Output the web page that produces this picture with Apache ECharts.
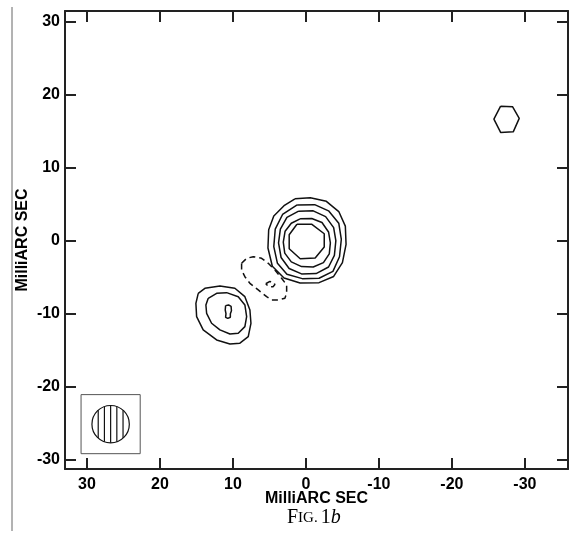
<!DOCTYPE html>
<html>
<head>
<meta charset="utf-8">
<script src="https://cdn.jsdelivr.net/npm/echarts@6/dist/echarts.min.js"></script>
<style>
html,body{margin:0;padding:0;background:#fff;}
#chart{width:569px;height:536px;}
</style>
</head>
<body>
<div id="chart"></div>
<script>
// Axis ticks (milliarcsec)
var xTicks = [30, 20, 10, 0, -10, -20, -30];
var yTicks = [-30, -20, -10, 0, 10, 20, 30];

// Solid contours (x = relative RA in mas, y = relative Dec in mas)
var coreC1 = [[1.23,2.25],[-0.82,2.25],[-2.51,0.96],[-2.51,-0.86],[-1.27,-2.37],[0.78,-2.47],[2.29,-1.10],[2.29,0.82],[1.23,2.25]];
var coreC2 = [[0.8,3.0],[-0.8,3.05],[-2.2,2.5],[-3.1,1.2],[-3.35,-0.3],[-3.2,-1.8],[-2.4,-3.0],[-1.0,-3.6],[0.6,-3.55],[2.0,-2.9],[2.9,-1.7],[3.1,-0.2],[2.85,1.3],[2.0,2.4],[0.8,3.0]];
var coreC3 = [[1.0,4.05],[-1.0,4.1],[-2.7,3.3],[-3.8,1.8],[-4.1,0],[-3.9,-2.0],[-3.1,-3.6],[-1.4,-4.5],[0.6,-4.55],[2.3,-3.8],[3.4,-2.3],[3.75,-0.3],[3.5,1.6],[2.6,3.2],[1.0,4.05]];
var coreC4 = [[1.2,4.9],[-1.2,4.95],[-3.1,4.1],[-4.5,2.4],[-4.85,0.2],[-4.6,-2.2],[-3.7,-4.2],[-1.8,-5.15],[0.5,-5.2],[2.6,-4.6],[3.9,-3.1],[4.4,-0.8],[4.2,1.6],[3.2,3.6],[1.2,4.9]];
var coreC5 = [[1.5,5.75],[-0.6,5.9],[-2.8,5.4],[-4.5,4.0],[-5.4,2.0],[-5.5,-0.5],[-5.0,-3.0],[-3.8,-4.9],[-1.8,-5.75],[0.8,-5.8],[3.0,-5.1],[4.6,-3.5],[5.2,-1.0],[5.1,1.5],[4.4,3.4],[3.0,4.8],[1.5,5.75]];

var knotC1 = [[14.75,-7.21],[13.84,-6.52],[11.78,-6.21],[9.73,-6.52],[8.36,-7.67],[7.67,-9.49],[7.53,-11.32],[7.90,-13.15],[9.04,-14.05],[10.41,-14.15],[12.23,-13.60],[14.07,-12.23],[14.97,-10.41],[15.07,-8.58],[14.75,-7.21]];
var knotC2 = [[13.38,-7.89],[12.23,-7.21],[10.86,-7.12],[9.27,-7.67],[8.36,-8.81],[8.12,-10.41],[8.36,-11.78],[9.27,-12.68],[10.41,-12.78],[11.78,-12.23],[12.92,-11.32],[13.60,-9.95],[13.70,-8.81],[13.38,-7.89]];
var knotC3 = [[11.0,-8.9],[10.6,-8.8],[10.25,-9.0],[10.2,-9.6],[10.35,-10.0],[10.35,-10.5],[10.7,-10.65],[11.0,-10.5],[10.95,-10.0],[11.05,-9.5],[11.0,-8.9]];

var farC1 = [[-26.67,18.45],[-28.32,18.36],[-29.22,16.77],[-28.40,14.93],[-26.67,14.85],[-25.75,16.67],[-26.67,18.45]];

// Negative (dashed) contours
var negC1 = [[8.81,-3.10],[8.12,-2.41],[7.22,-2.19],[6.07,-2.41],[5.16,-3.10],[4.25,-4.01],[3.33,-5.15],[2.64,-6.07],[2.64,-7.21],[2.88,-7.89],[3.79,-8.12],[4.70,-8.12],[5.38,-7.67],[6.53,-6.75],[7.67,-5.84],[8.36,-4.93],[8.81,-4.01],[8.81,-3.10]];
var negC2 = [[5.5,-5.9],[5.0,-5.6],[4.4,-5.7],[4.25,-6.0],[4.5,-6.3],[5.1,-6.3],[5.5,-5.9]];

// Restoring beam: centre, radius, box half-size, hatch offsets (mas)
var beamCenter = [26.75, -25.15];
var beamRadius = 2.56;
var beamBoxHalf = 4.05;
var beamHatch = [-1.7, -0.85, 0, 0.85, 1.7];

var solid = [coreC1, coreC2, coreC3, coreC4, coreC5, knotC1, knotC2, knotC3, farC1];
var dashed = [negC1, negC2];

var chart = echarts.init(document.getElementById('chart'), null, {renderer: 'canvas'});

var labelFont = {fontFamily: 'Liberation Sans, Arial, sans-serif', fontWeight: 'bold', fontSize: 16, color: '#000'};

function lineSeries(d, dash) {
  return {
    type: 'line', data: d, showSymbol: false, symbol: 'none', silent: true,
    animation: false, smooth: false,
    lineStyle: {color: '#111', width: 1.5, type: dash ? [6, 4] : 'solid'},
    xAxisIndex: 0, yAxisIndex: 0, z: 3
  };
}

var series = [];
solid.forEach(function (d) { series.push(lineSeries(d, false)); });
dashed.forEach(function (d) { series.push(lineSeries(d, true)); });

series.push({
  type: 'custom', data: [beamCenter], silent: true, animation: false, z: 4,
  renderItem: function (params, api) {
    var c = api.coord([api.value(0), api.value(1)]);
    var r = api.size([beamRadius, beamRadius]);
    var rx = r[0], ry = r[1];
    var b = api.size([beamBoxHalf, beamBoxHalf]);
    var children = [
      {type: 'rect', shape: {x: c[0] - b[0], y: c[1] - b[1], width: 2 * b[0], height: 2 * b[1]},
       style: {fill: 'none', stroke: '#555', lineWidth: 1}},
      {type: 'ellipse', shape: {cx: c[0], cy: c[1], rx: rx, ry: ry},
       style: {fill: 'none', stroke: '#111', lineWidth: 1.2}}
    ];
    beamHatch.forEach(function (h) {
      var dx = api.size([Math.abs(h), 0])[0] * (h < 0 ? -1 : 1);
      var hh = Math.sqrt(Math.max(rx * rx - dx * dx, 0)) * ry / rx;
      children.push({type: 'line', shape: {x1: c[0] + dx, y1: c[1] - hh, x2: c[0] + dx, y2: c[1] + hh},
        style: {stroke: '#111', lineWidth: 1.2}});
    });
    return {type: 'group', children: children};
  }
});

var tickStyle = {inside: true, length: 11, lineStyle: {color: '#222', width: 2}};
var axisLineStyle = {show: true, onZero: false, lineStyle: {color: '#222', width: 2}};

var option = {
  animation: false,
  backgroundColor: '#fff',
  grid: {left: 65, top: 11, width: 503, height: 458, containLabel: false},
  xAxis: [
    {type: 'value', inverse: true, min: -35.9, max: 33, position: 'bottom',
     axisLine: axisLineStyle,
     axisTick: Object.assign({customValues: xTicks}, tickStyle),
     axisLabel: Object.assign({customValues: xTicks, margin: 8}, labelFont),
     splitLine: {show: false},
     name: 'MilliARC SEC', nameLocation: 'middle', nameGap: 22, nameMoveOverlap: false,
     nameTextStyle: labelFont},
    {type: 'value', inverse: true, min: -35.9, max: 33, position: 'top',
     axisLine: axisLineStyle,
     axisTick: Object.assign({customValues: xTicks}, tickStyle),
     axisLabel: {show: false}, splitLine: {show: false}}
  ],
  yAxis: [
    {type: 'value', min: -31.3, max: 31.5, position: 'left',
     axisLine: axisLineStyle,
     axisTick: Object.assign({customValues: yTicks}, tickStyle),
     axisLabel: Object.assign({customValues: yTicks, margin: 5}, labelFont),
     splitLine: {show: false},
     name: 'MilliARC SEC', nameLocation: 'middle', nameGap: 34, nameMoveOverlap: false,
     nameTextStyle: labelFont},
    {type: 'value', min: -31.3, max: 31.5, position: 'right',
     axisLine: axisLineStyle,
     axisTick: Object.assign({customValues: yTicks}, tickStyle),
     axisLabel: {show: false}, splitLine: {show: false}}
  ],
  graphic: [
    {type: 'line', shape: {x1: 12, y1: 7, x2: 12, y2: 531}, style: {stroke: '#666', lineWidth: 1}},
    {type: 'text', left: 287, top: 508,
     style: {
       text: '{a|F}{b|IG.}{a|1}{c|b}',
       rich: {
         a: {fontFamily: 'Liberation Serif, Times New Roman, serif', fontSize: 20, fill: '#000'},
         b: {fontFamily: 'Liberation Serif, Times New Roman, serif', fontSize: 15, fill: '#000', padding: [0, 3, 0, 0]},
         c: {fontFamily: 'Liberation Serif, Times New Roman, serif', fontSize: 20, fontStyle: 'italic', fill: '#000'}
       }
     }}
  ],
  series: series
};
chart.setOption(option);
</script>
</body>
</html>
